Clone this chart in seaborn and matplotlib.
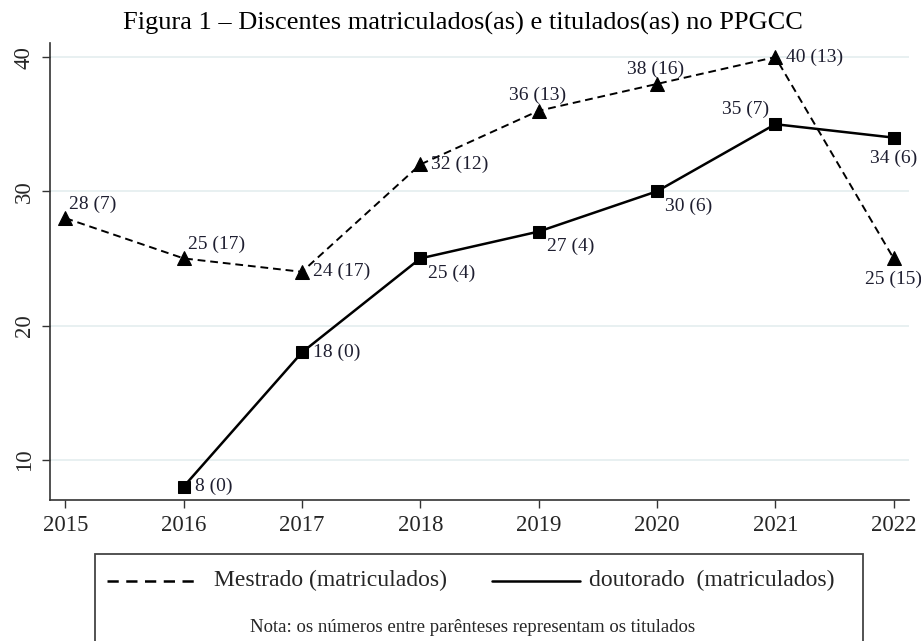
import matplotlib
matplotlib.use("Agg")
import matplotlib.pyplot as plt
import seaborn as sns
import pandas as pd
import numpy as np
from matplotlib.lines import Line2D
from matplotlib.patches import Rectangle

years = [2015, 2016, 2017, 2018, 2019, 2020, 2021, 2022]
mestrado = [28, 25, 24, 32, 36, 38, 40, 25]
mestrado_tit = [7, 17, 17, 12, 13, 16, 13, 15]
doutorado = [np.nan, 8, 18, 25, 27, 30, 35, 34]
doutorado_tit = [np.nan, 0, 0, 4, 4, 6, 7, 6]

title = "Figura 1 – Discentes matriculados(as) e titulados(as) no PPGCC"
leg_m = "Mestrado (matriculados)"
leg_d = "doutorado  (matriculados)"
note = "Nota: os números entre parênteses representam os titulados"

# label placement (Stata-like clock positions)
pos_m = ["ne", "ne", "e", "e", "n", "n", "e", "s"]
pos_d = [None, "e", "e", "se", "se", "se", "nw", "s"]

sns.set_theme(style="white")
plt.rcParams["font.family"] = ["Liberation Serif", "DejaVu Serif"]

W, H = 921, 641
fig = plt.figure(figsize=(9.21, 6.41), dpi=100)
ax = fig.add_axes([50 / W, 1 - 500 / H, (909 - 50) / W, (500 - 43) / H])

df_m = pd.DataFrame({"ano": years, "valor": mestrado})
df_d = pd.DataFrame({"ano": years, "valor": doutorado}).dropna()

sns.lineplot(data=df_m, x="ano", y="valor", ax=ax, color="black", lw=1.4,
             linestyle=(0, (4, 2.5)), marker="^", markersize=10,
             markeredgecolor="black", markerfacecolor="black")
sns.lineplot(data=df_d, x="ano", y="valor", ax=ax, color="black", lw=1.8,
             marker="s", markersize=8.8,
             markeredgecolor="black", markerfacecolor="black")

# offsets in pixels (dx, dy up), horizontal alignment
offsets = {"ne": (4, 14, "left"), "e": (11, 0, "left"),
           "n": (-1, 15, "center"), "s": (0, -21, "center"),
           "se": (8, -15, "left"), "nw": (-6, 15, "right")}

lab_color = "#1e1e30"
def put(x, v, t, p):
    dx, dy, ha = offsets[p]
    ax.annotate(f"{int(v)} ({int(t)})", (x, v), xytext=(dx * 0.72, dy * 0.72),
                textcoords="offset points", ha=ha, va="center", fontsize=14,
                color=lab_color)

for x, v, t, p in zip(years, mestrado, mestrado_tit, pos_m):
    put(x, v, t, p)
for x, v, t, p in zip(years, doutorado, doutorado_tit, pos_d):
    if p is None or np.isnan(v):
        continue
    put(x, v, t, p)

ax.set_xlim(2014.87, 2022.13)
ax.set_ylim(7, 41.05)
ax.set_xticks(years)
ax.set_xticklabels([str(y) for y in years], fontsize=16.5)
ax.set_yticks([10, 20, 30, 40])
ax.set_yticklabels(["10", "20", "30", "40"], fontsize=16.5, rotation=90, va="center")
ax.set_xlabel("")
ax.set_ylabel("")
for yv in [10, 20, 30, 40]:
    ax.axhline(yv, color="#e6eff0", lw=1.3, zorder=0)
ax.tick_params(axis="both", which="both", length=6, width=1, color="#333333",
               direction="out", bottom=True, left=True, pad=5)
ax.spines["top"].set_visible(False)
ax.spines["right"].set_visible(False)
for s in ["left", "bottom"]:
    ax.spines[s].set_color("#333333")
    ax.spines[s].set_linewidth(1.2)

fig.text(463 / W, 1 - 23 / H, title, ha="center", va="center", fontsize=19, color="black")

# legend box
rect = Rectangle((95 / W, -0.01), (863 - 95) / W, (641 - 554) / H + 0.01,
                 transform=fig.transFigure, fill=False, edgecolor="#444444", lw=1.3)
fig.add_artist(rect)
fig.add_artist(Line2D([107 / W, 198 / W], [1 - 581 / H] * 2, transform=fig.transFigure,
                      color="black", lw=1.8, linestyle=(0, (4.5, 3))))
fig.text(214 / W, 1 - 580 / H, leg_m, ha="left", va="center", fontsize=17)
fig.add_artist(Line2D([492 / W, 580 / W], [1 - 581 / H] * 2, transform=fig.transFigure,
                      color="black", lw=1.8))
fig.text(589 / W, 1 - 580 / H, leg_d, ha="left", va="center", fontsize=17)
fig.text(473 / W, 1 - 628 / H, note, ha="center", va="center", fontsize=13.5)

fig.savefig("out.png", dpi=100)
